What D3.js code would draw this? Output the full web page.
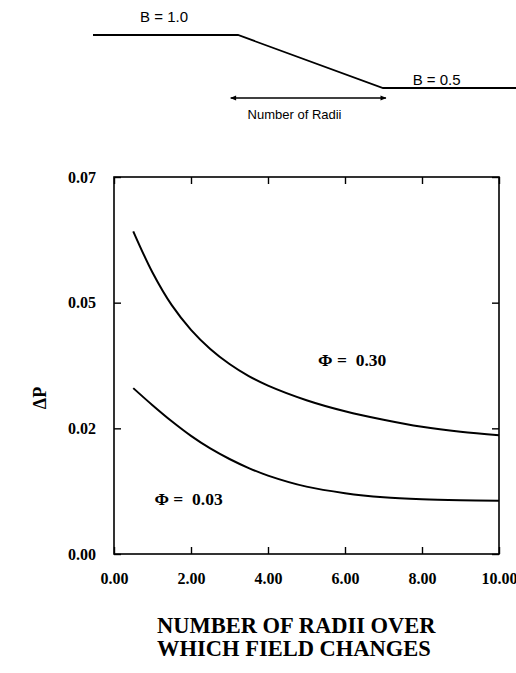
<!DOCTYPE html>
<html>
<head>
<meta charset="utf-8">
<script src="https://cdn.jsdelivr.net/npm/d3@7"></script>
<style>
  body { margin: 0; background: #fff; }
  svg { display: block; }
  .serif { font-family: "Liberation Serif", "Times New Roman", serif; font-weight: bold; }
  .sans { font-family: "Liberation Sans", Arial, sans-serif; }
</style>
</head>
<body>
<div id="chart"></div>
<script>
// field profile sketch (position in arbitrary units, field strength)
const profileX = [0, 1, 2, 2.95];
const profileB = [1.0, 1.0, 0.5, 0.5];

// curves: delta P vs number of radii
const radii = [0.5, 1.0, 1.5, 2.0, 2.5, 3.0, 3.5, 4.0, 5.0, 6.0, 7.0, 8.0, 9.0, 10.0];
const phi30 = [0.0642, 0.0560, 0.0495, 0.0446, 0.0408, 0.0378, 0.0354, 0.0335, 0.0306, 0.0284, 0.0267, 0.0253, 0.0243, 0.0236];
const phi03 = [0.0330, 0.0296, 0.0264, 0.0235, 0.0210, 0.0189, 0.0171, 0.0156, 0.0134, 0.0121, 0.0113, 0.0109, 0.0107, 0.0106];

const xTicks = [0, 2, 4, 6, 8, 10];
const xTickLabels = ['0.00', '2.00', '4.00', '6.00', '8.00', '10.00'];
const yTicks = [0, 0.025, 0.05, 0.075];
const yTickLabels = ['0.00', '0.02', '0.05', '0.07'];

const width = 516, height = 673;
const svg = d3.select('#chart').append('svg')
  .attr('width', width)
  .attr('height', height);

// ---- top sketch ----
const sx = d3.scaleLinear().domain([0, 1]).range([93, 238]);
const sy = d3.scaleLinear().domain([0.5, 1.0]).range([88, 35]);

svg.append('path')
  .datum(profileX.map((x, i) => [x, profileB[i]]))
  .attr('fill', 'none')
  .attr('stroke', '#000')
  .attr('stroke-width', 1.8)
  .attr('d', d3.line().x(d => sx(d[0])).y(d => sy(d[1])));

svg.append('text').attr('class', 'sans')
  .attr('x', sx(0.49)).attr('y', sy(1.0) - 13)
  .attr('text-anchor', 'middle').attr('font-size', 15)
  .text('B = 1.0');
svg.append('text').attr('class', 'sans')
  .attr('x', sx(2.37)).attr('y', sy(0.5) - 3)
  .attr('text-anchor', 'middle').attr('font-size', 15)
  .text('B = 0.5');

const defs = svg.append('defs');
defs.append('marker')
  .attr('id', 'arr')
  .attr('viewBox', '0 0 10 10')
  .attr('refX', 9).attr('refY', 5)
  .attr('markerWidth', 9).attr('markerHeight', 6)
  .attr('markerUnits', 'userSpaceOnUse')
  .attr('orient', 'auto-start-reverse')
  .append('path').attr('d', 'M0,1 L10,5 L0,9 Z').attr('fill', '#000');

svg.append('line')
  .attr('x1', sx(0.95)).attr('x2', sx(2.02))
  .attr('y1', 98).attr('y2', 98)
  .attr('stroke', '#000').attr('stroke-width', 1.5)
  .attr('marker-start', 'url(#arr)')
  .attr('marker-end', 'url(#arr)');
svg.append('text').attr('class', 'sans')
  .attr('x', sx(1.39)).attr('y', 119)
  .attr('text-anchor', 'middle').attr('font-size', 13)
  .text('Number of Radii');

// ---- main plot ----
const margin = { top: 177, right: 17, bottom: 119, left: 114 };
const x = d3.scaleLinear().domain([0, 10]).range([margin.left, width - margin.right]);
const y = d3.scaleLinear().domain([0, 0.075]).range([height - margin.bottom, margin.top]);

const g = svg.append('g');

g.append('rect')
  .attr('x', x(0)).attr('y', y(0.075))
  .attr('width', x(10) - x(0)).attr('height', y(0) - y(0.075))
  .attr('fill', 'none').attr('stroke', '#000').attr('stroke-width', 1.6);

const fmtX = d => xTickLabels[xTicks.indexOf(d)];
const fmtY = d => yTickLabels[yTicks.indexOf(d)];

const axBottom = g.append('g')
  .attr('transform', 'translate(0,' + y(0) + ')')
  .call(d3.axisBottom(x).tickValues(xTicks).tickSize(-7).tickPadding(19).tickFormat(fmtX));
const axLeft = g.append('g')
  .attr('transform', 'translate(' + x(0) + ',0)')
  .call(d3.axisLeft(y).tickValues(yTicks).tickSize(-7).tickPadding(18).tickFormat(fmtY));
const axTop = g.append('g')
  .attr('transform', 'translate(0,' + y(0.075) + ')')
  .call(d3.axisTop(x).tickValues(xTicks).tickSize(-7).tickFormat(''));
const axRight = g.append('g')
  .attr('transform', 'translate(' + x(10) + ',0)')
  .call(d3.axisRight(y).tickValues(yTicks).tickSize(-7).tickFormat(''));

[axBottom, axLeft, axTop, axRight].forEach(function(a) {
  a.select('.domain').remove();
  a.selectAll('line').attr('stroke', '#000').attr('stroke-width', 1.4);
  a.selectAll('text')
    .attr('class', 'serif')
    .attr('font-size', 16)
    .attr('fill', '#000');
});

const line = d3.line()
  .x(d => x(d[0]))
  .y(d => y(d[1]))
  .curve(d3.curveCatmullRom.alpha(0.5));

[phi30, phi03].forEach(function(s) {
  g.append('path')
    .datum(radii.map((r, i) => [r, s[i]]))
    .attr('fill', 'none')
    .attr('stroke', '#000')
    .attr('stroke-width', 2)
    .attr('d', line);
});

g.append('text').attr('class', 'serif')
  .attr('x', x(5.3)).attr('y', y(0.0375))
  .attr('font-size', 17.5)
  .style('white-space', 'pre')
  .text('\u03A6 =  0.30');
g.append('text').attr('class', 'serif')
  .attr('x', x(1.05)).attr('y', y(0.0097))
  .attr('font-size', 17.5)
  .style('white-space', 'pre')
  .text('\u03A6 =  0.03');

// y title (rotated)
svg.append('text').attr('class', 'serif')
  .attr('transform', 'translate(46,398) rotate(-90)')
  .attr('text-anchor', 'middle')
  .attr('font-size', 18)
  .text('\u0394P');

// x title
const xt = svg.append('text').attr('class', 'serif').attr('font-size', 22.5);
xt.append('tspan').attr('x', 157).attr('y', 633).text('NUMBER OF RADII OVER');
xt.append('tspan').attr('x', 157).attr('y', 656).text('WHICH FIELD CHANGES');
</script>
</body>
</html>
